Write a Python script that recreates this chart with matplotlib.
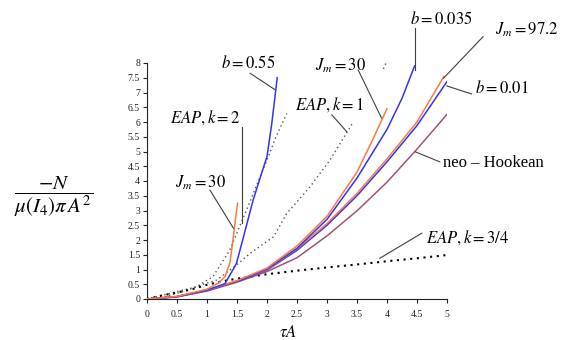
import matplotlib
matplotlib.use("Agg")
import matplotlib.pyplot as plt

plt.rcParams['mathtext.fontset'] = 'stix'
plt.rcParams['font.family'] = ['Liberation Serif', 'DejaVu Serif']

# ---- data ----
b055_x = [0, 0.5, 1.0, 1.3, 1.49, 1.55, 1.77, 1.91, 2.0, 2.08, 2.17]
b055_y = [0, 0.08, 0.3, 0.52, 1.2, 1.66, 3.36, 4.26, 4.83, 5.95, 7.5]

jm30a_x = [0, 0.5, 1.0, 1.2, 1.3, 1.38, 1.44, 1.48, 1.51]
jm30a_y = [0, 0.09, 0.33, 0.55, 0.76, 1.21, 2.1, 2.8, 3.25]

eap2_x = [0, 0.3, 0.6, 0.83, 1.1, 1.38, 1.66, 2.0, 2.15, 2.33]
eap2_y = [0, 0.08, 0.25, 0.42, 0.76, 1.66, 3.02, 4.71, 5.5, 6.29]

eap1_x = [0, 0.16, 0.72, 1.16, 1.49, 1.72, 2.11, 2.33, 2.72, 3.05, 3.44]
eap1_y = [0, 0.08, 0.36, 0.64, 1.15, 1.55, 2.11, 2.9, 3.81, 4.71, 6.01]

eap1_tail_x = [3.94, 3.99]
eap1_tail_y = [7.8, 8.03]

eap34_x = [0, 0.25, 0.5, 0.75, 1.0, 1.25, 1.5, 2.0, 2.5, 3.0, 3.5, 4.0, 4.5, 5.0]
eap34_y = [0, 0.12, 0.22, 0.33, 0.48, 0.6, 0.69, 0.84, 0.96, 1.07, 1.17, 1.28, 1.38, 1.49]

jm30b_x = [0, 0.5, 1.0, 1.5, 2.0, 2.5, 3.0, 3.5, 3.75, 4.0]
jm30b_y = [0, 0.08, 0.3, 0.62, 1.05, 1.8, 2.8, 4.3, 5.35, 6.45]

b035_x = [0, 0.5, 1.0, 1.5, 2.0, 2.5, 3.0, 3.5, 4.0, 4.25, 4.46]
b035_y = [0, 0.08, 0.3, 0.6, 1.02, 1.72, 2.7, 4.1, 5.75, 6.8, 7.9]

jm97_x = [0, 0.5, 1.0, 1.5, 2.0, 2.5, 3.0, 3.5, 4.0, 4.5, 4.95]
jm97_y = [0, 0.08, 0.3, 0.62, 1.0, 1.7, 2.56, 3.58, 4.75, 6.0, 7.55]

b001_x = [0, 0.5, 1.0, 1.5, 2.0, 2.5, 3.0, 3.5, 4.0, 4.5, 5.0]
b001_y = [0, 0.08, 0.29, 0.6, 0.98, 1.65, 2.5, 3.5, 4.65, 5.88, 7.37]

neo_x = [0, 0.5, 1.0, 1.5, 2.0, 2.5, 3.0, 3.5, 4.0, 4.5, 5.0]
neo_y = [0, 0.07, 0.27, 0.57, 0.93, 1.4, 2.14, 2.99, 3.96, 5.08, 6.26]

xticks = [0, 0.5, 1, 1.5, 2, 2.5, 3, 3.5, 4, 4.5, 5]
xtick_labels = ['0', '0.5', '1', '1.5', '2', '2.5', '3', '3.5', '4', '4.5', '5']
yticks = [0, 0.5, 1, 1.5, 2, 2.5, 3, 3.5, 4, 4.5, 5, 5.5, 6, 6.5, 7, 7.5, 8]
ytick_labels = ['0', '0.5', '1', '1.5', '2', '2.5', '3', '3.5', '4', '4.5', '5',
                '5.5', '6', '6.5', '7', '7.5', '8']

# (label, text centre, leader start, leader end)
annotations = [
    (r'$b = 0.55$', (1.68, 8.0), (1.72, 7.65), (2.13, 7.1)),
    (r'$EAP, k = 2$', (0.97, 6.14), (1.58, 5.84), (1.58, 2.57)),
    (r'$J_m = 30$', (0.9, 3.95), (1.05, 3.69), (1.44, 2.4)),
    (r'$J_m = 30$', (3.22, 7.9), (3.52, 7.76), (3.91, 6.13)),
    (r'$EAP, k = 1$', (3.05, 6.58), (3.08, 6.24), (3.33, 5.67)),
    (r'$b = 0.035$', (4.9, 9.46), (4.46, 9.18), (4.46, 7.76)),
    (r'$J_m = 97.2$', (6.33, 9.12), (5.6, 8.89), (4.94, 7.48)),
    (r'$b = 0.01$', (5.92, 7.15), (5.41, 6.95), (5.0, 7.22)),
    ('neo – Hookean', (5.78, 4.61), (4.88, 4.65), (4.47, 4.99)),
    (r'$EAP, k = 3/4$', (5.35, 2.07), (4.58, 2.23), (3.88, 1.38)),
]

orange = '#F77C3E'
blue = '#3434F0'
purple = '#A0527E'

fig = plt.figure(figsize=(5.63, 3.40), dpi=100)
ax = fig.add_axes([147 / 563, 1 - 299 / 340, 300 / 563, 236 / 340])

ax.plot(neo_x, neo_y, color=purple, lw=1.1, zorder=3)
ax.plot(b001_x, b001_y, color=blue, lw=1.1, zorder=3)
ax.plot(jm97_x, jm97_y, color=orange, lw=1.1, zorder=3)
ax.plot(b035_x, b035_y, color=blue, lw=1.1, zorder=3)
ax.plot(jm30b_x, jm30b_y, color=orange, lw=1.1, zorder=3)
ax.plot(b055_x, b055_y, color=blue, lw=1.1, zorder=3)
ax.plot(jm30a_x, jm30a_y, color=orange, lw=1.1, zorder=3)

ax.plot(eap2_x, eap2_y, color='#555555', lw=1.0, ls=(0, (1, 2.2)), zorder=2)
ax.plot(eap1_x, eap1_y, color='#555555', lw=1.0, ls=(0, (1, 2.2)), zorder=2)
ax.plot(eap1_tail_x, eap1_tail_y, color='#555555', lw=1.0, ls=(0, (1, 2.2)),
        zorder=2, clip_on=False)
ax.plot(eap34_x, eap34_y, color='black', lw=1.5, ls=(0, (1, 2.2)), zorder=2)

for label, tpos, p0, p1 in annotations:
    ax.plot([p0[0], p1[0]], [p0[1], p1[1]], color='#404040', lw=0.8,
            clip_on=False, zorder=4)
    ax.text(tpos[0], tpos[1], label, fontsize=12, ha='center', va='center',
            clip_on=False)

ax.set_xlim(0, 5)
ax.set_ylim(0, 8)
ax.set_xticks(xticks)
ax.set_xticklabels(xtick_labels)
ax.set_yticks(yticks)
ax.set_yticklabels(ytick_labels)
ax.tick_params(axis='both', labelsize=7, length=3, width=0.8, direction='out',
               pad=2, colors='#222222')
ax.tick_params(axis='x', pad=5)
for s in ['top', 'right']:
    ax.spines[s].set_visible(False)
for s in ['left', 'bottom']:
    ax.spines[s].set_linewidth(0.8)
    ax.spines[s].set_color('#222222')

fig.text(288 / 563, 1 - 333 / 340, r'$\tau A$', fontsize=12, ha='center', va='center')
fig.text(54 / 563, 1 - 197 / 340, r'$\dfrac{-N}{\mu(I_4)\pi\, A^2}$', fontsize=15,
         ha='center', va='center')

fig.savefig('out.png', dpi=100)
